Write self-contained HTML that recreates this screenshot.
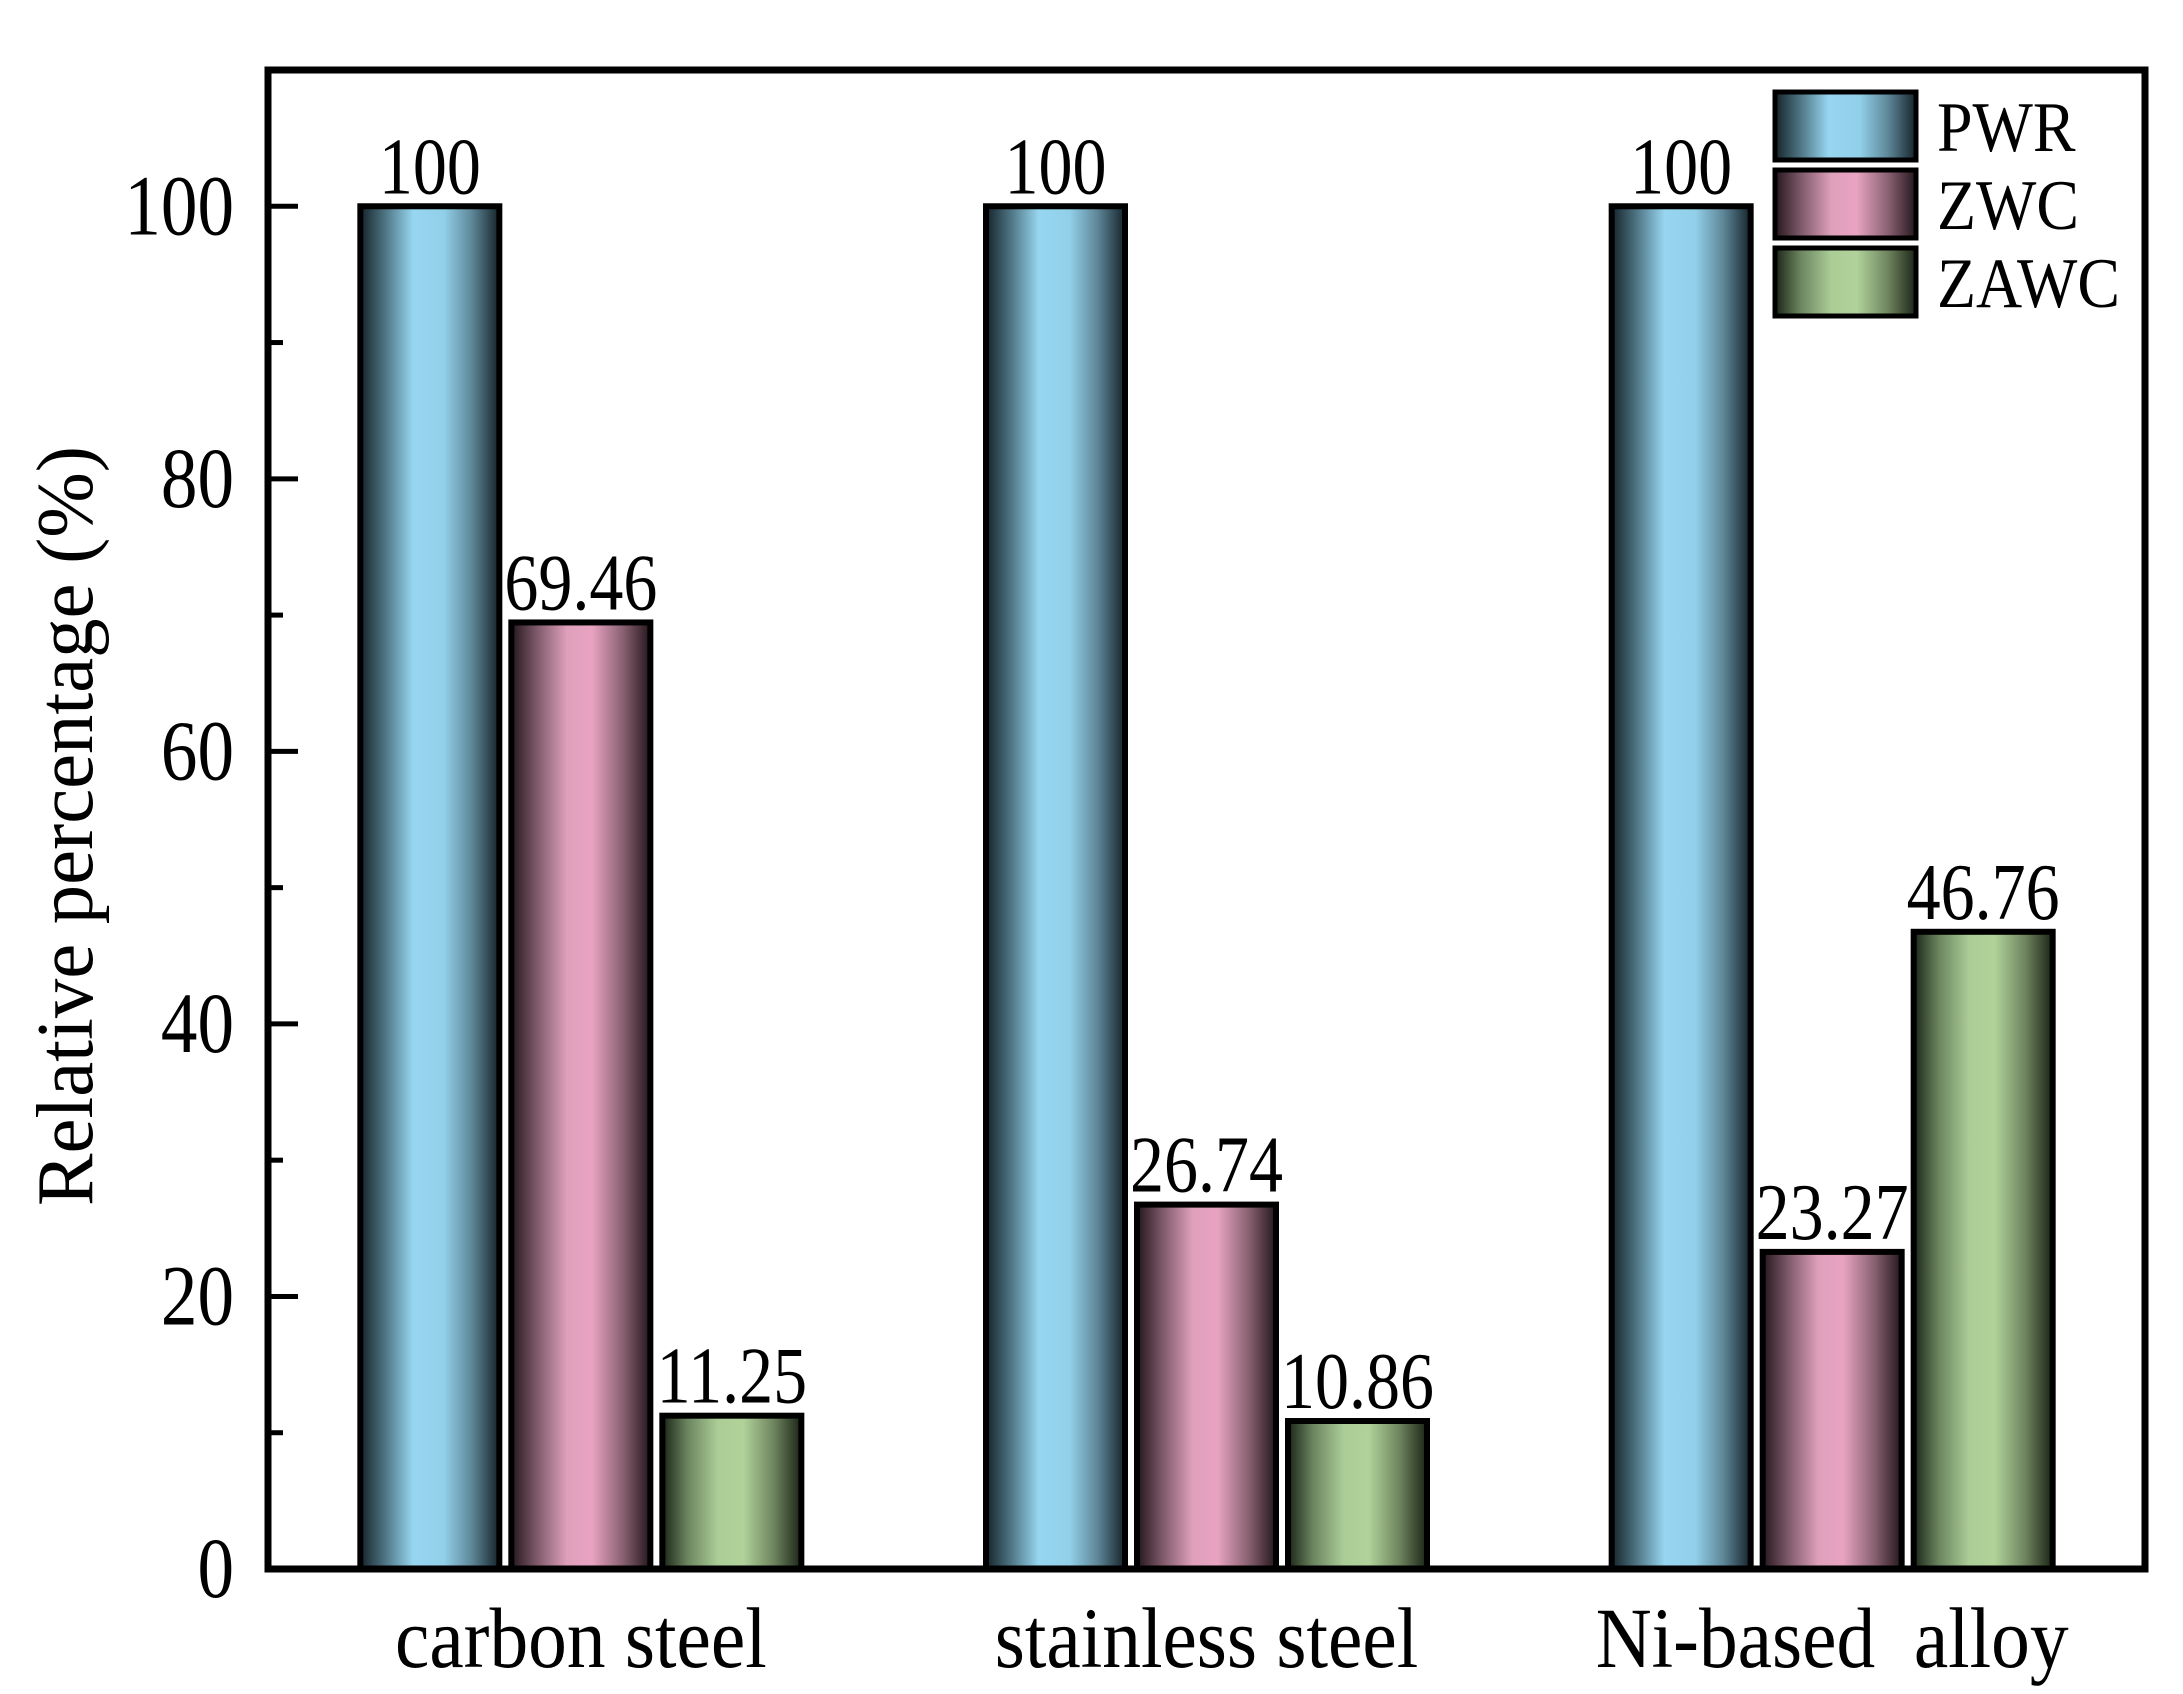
<!DOCTYPE html>
<html><head><meta charset="utf-8"><style>
html,body{margin:0;padding:0;background:#fff;}
svg{display:block;font-family:"Liberation Serif",serif;}
</style></head><body>
<svg id="chart" width="2183" height="1694" viewBox="0 0 2183 1694" xmlns="http://www.w3.org/2000/svg">
<defs>
<linearGradient id="g0" x1="0" x2="1" y1="0" y2="0">
<stop offset="0" stop-color="#15232a"/><stop offset="0.18" stop-color="#4f7584"/><stop offset="0.38" stop-color="#97d6f0"/><stop offset="0.6" stop-color="#92d0ea"/><stop offset="0.8" stop-color="#5f8899"/><stop offset="1" stop-color="#15232a"/>
</linearGradient>
<linearGradient id="g1" x1="0" x2="1" y1="0" y2="0">
<stop offset="0" stop-color="#24161c"/><stop offset="0.18" stop-color="#7c5868"/><stop offset="0.4" stop-color="#dfa0bb"/><stop offset="0.58" stop-color="#e8a3c1"/><stop offset="0.8" stop-color="#8a6272"/><stop offset="1" stop-color="#24161c"/>
</linearGradient>
<linearGradient id="g2" x1="0" x2="1" y1="0" y2="0">
<stop offset="0" stop-color="#1a2416"/><stop offset="0.18" stop-color="#6b8560"/><stop offset="0.4" stop-color="#abcd96"/><stop offset="0.58" stop-color="#b1d39a"/><stop offset="0.8" stop-color="#6f855f"/><stop offset="1" stop-color="#1a2416"/>
</linearGradient>
</defs>
<g id="plot"></g>
</svg>
<script>
const categories = ["carbon steel", "stainless steel", "Ni-based  alloy"];
const seriesNames = ["PWR", "ZWC", "ZAWC"];
const pwrValues = [100, 100, 100];
const zwcValues = [69.46, 26.74, 23.27];
const zawcValues = [11.25, 10.86, 46.76];
const yTickLabels = [0, 20, 40, 60, 80, 100];
const yMinorTicks = [10, 30, 50, 70, 90];
const series = [pwrValues, zwcValues, zawcValues];

const NS = "http://www.w3.org/2000/svg";
const L = 268, R = 2145, T = 70, B = 1569;
const yMax = 110;
const y = v => B - (v / yMax) * (B - T);
const xCenter = i => L + (R - L) * (2 * i + 1) / 6;
const barW = 139, pitch = 151;
const g = document.getElementById('plot');
function mk(tag, attrs, parent) {
  const e = document.createElementNS(NS, tag);
  for (const k in attrs) e.setAttribute(k, attrs[k]);
  (parent || g).appendChild(e);
  return e;
}
function txt(x, yy, size, sx, anchor) {
  return mk('text', {x: 0, y: 0, 'font-size': size, 'text-anchor': anchor, transform: `translate(${x},${yy}) scale(${sx},1)`});
}

// bars
series.forEach((vals, s) => {
  vals.forEach((v, i) => {
    const x0 = xCenter(i) + (s - 1) * pitch - barW / 2;
    const r = mk('rect', {x: x0, y: y(v), width: barW, height: B - y(v), fill: `url(#g${s})`, stroke: '#000', 'stroke-width': 6});
    
    
    const t = txt(x0 + barW / 2, y(v) - 13, 80, 0.85, 'middle');
    t.textContent = String(v);
    
    
  });
});

// frame
const f = mk('rect', {x: L, y: T, width: R - L, height: B - T, fill: 'none', stroke: '#000', 'stroke-width': 7});



// y ticks
yTickLabels.forEach(v => {
  const tk = mk('line', {x1: L, x2: L + 30, y1: y(v), y2: y(v), stroke: '#000', 'stroke-width': 5});
  
  
  const t = txt(234, y(v) + 28, 86, 0.85, 'end');
  t.textContent = v;
  
  
});
yMinorTicks.forEach(v => {
  const tk = mk('line', {x1: L, x2: L + 15, y1: y(v), y2: y(v), stroke: '#000', 'stroke-width': 5});
  
  
});

// x labels
categories.forEach((c, i) => {
  const t = txt(xCenter(i), 1667, 86, 0.9, 'middle');
  t.style.whiteSpace = 'pre';
  t.textContent = c;
  
  
});

// y title
const yt = mk('text', {x: 0, y: 0, 'text-anchor': 'middle', 'font-size': 80, transform: 'translate(92,826) rotate(-90)', textLength: 760, lengthAdjust: 'spacingAndGlyphs'});
yt.textContent = 'Relative percentage (%)';



// legend
seriesNames.forEach((n, s) => {
  const ly = 92 + s * 78;
  const r = mk('rect', {x: 1775, y: ly, width: 141, height: 68, fill: `url(#g${s})`, stroke: '#000', 'stroke-width': 5});
  
  
  const t = txt(1937, ly + 59, 71, 0.9, 'start');
  t.textContent = n;
  
  
});
</script>
</body></html>
